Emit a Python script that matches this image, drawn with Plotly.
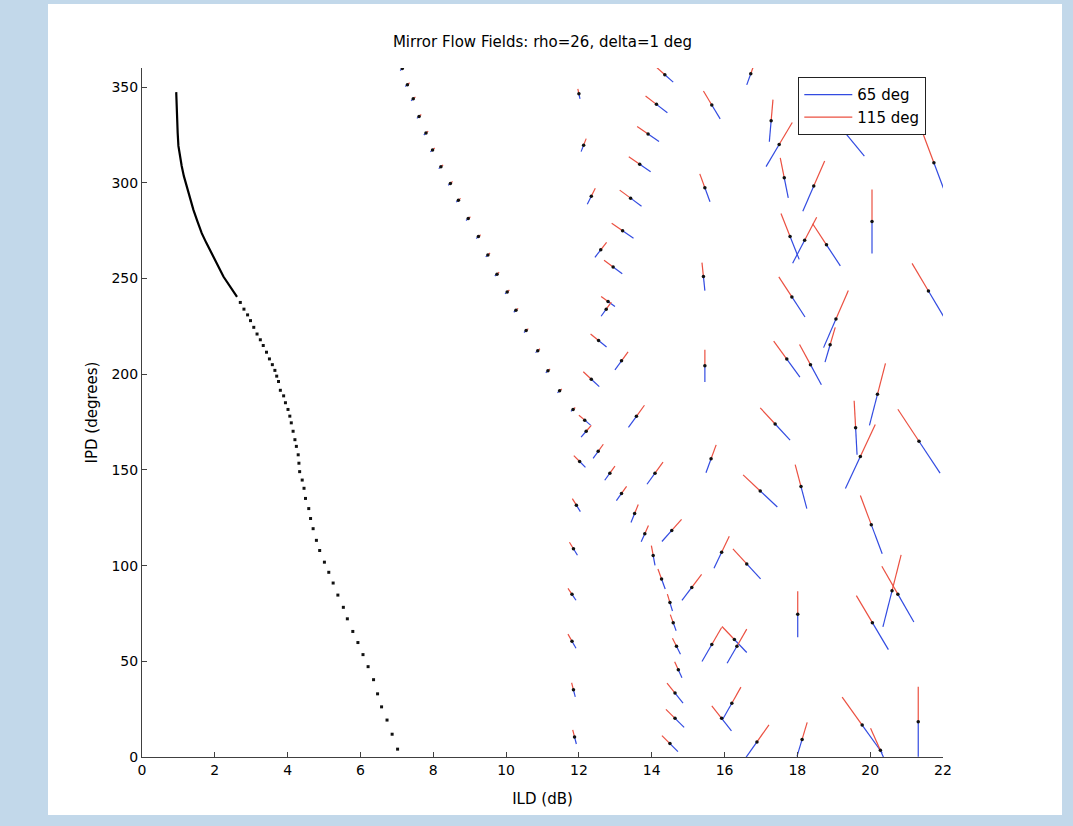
import plotly.graph_objects as go

# ---------------- data ----------------
title_text = "Mirror Flow Fields: rho=26, delta=1 deg"
x_ticks = [0, 2, 4, 6, 8, 10, 12, 14, 16, 18, 20, 22]
y_ticks = [0, 50, 100, 150, 200, 250, 300, 350]

# left trajectory: dense upper part (continuous)
curve_dense_ild = [0.94, 0.95, 0.96, 0.98, 1.00, 1.04, 1.09, 1.15, 1.23, 1.31, 1.41, 1.52,
                   1.64, 1.77, 1.92, 2.08, 2.24, 2.42, 2.61]
curve_dense_ipd = [347.4, 340.0, 333.4, 326.0, 319.3, 314.0, 308.8, 303.5, 298.3, 292.0, 286.0, 280.0,
                   273.7, 268.5, 263.2, 257.0, 250.9, 245.5, 240.4]

# left trajectory: dotted lower part
curve_dots_ild = [2.70, 2.80, 2.90, 2.98, 3.07, 3.16, 3.25, 3.33, 3.42, 3.50, 3.58, 3.65, 3.70,
                  3.75, 3.80, 3.89, 3.94, 4.01, 4.06, 4.10, 4.15, 4.20, 4.24, 4.29, 4.31, 4.33,
                  4.40, 4.45, 4.49, 4.58, 4.63, 4.70, 4.79, 4.88, 5.01, 5.13, 5.25, 5.38, 5.53,
                  5.64, 5.79, 5.93, 6.07, 6.21, 6.36, 6.47, 6.58, 6.73, 6.87, 7.02]
curve_dots_ipd = [237.5, 234.0, 231.0, 228.0, 224.5, 221.0, 218.0, 215.0, 211.5, 208.0, 205.0, 202.0, 199.0,
                  196.2, 191.6, 188.7, 185.1, 181.6, 178.1, 174.6, 170.2, 165.8, 162.3, 157.9, 153.5, 149.1,
                  144.7, 140.4, 135.1, 129.8, 124.6, 119.3, 113.2, 107.9, 101.8, 96.5, 90.9, 84.6, 78.2,
                  72.2, 65.6, 59.8, 53.5, 47.2, 40.4, 33.0, 26.2, 19.3, 11.9, 4.1]

# second trajectory (tiny vectors)
traj2_ild = [7.15, 7.29, 7.45, 7.61, 7.80, 7.98, 8.21, 8.47, 8.69, 8.96, 9.24, 9.50, 9.75, 10.03,
             10.27, 10.55, 10.87, 11.15, 11.47, 11.84]
traj2_ipd = [359.7, 351.3, 343.9, 334.7, 326.0, 317.2, 308.4, 299.7, 290.9, 281.3, 271.9, 262.3, 252.3, 243.0,
             233.4, 222.8, 212.3, 201.8, 191.3, 181.6]
traj2_du = [0.06] * len(traj2_ild)
traj2_dv = [1.0] * len(traj2_ild)

# flow vectors: centre (ILD, IPD) and the 115-deg half-vector (dILD, dIPD);
# the 65-deg half-vector is the mirror (opposite) of it
vec_ild = [14.36, 14.13, 13.90, 13.67, 13.42, 13.20, 12.94, 12.80, 12.54, 12.34, 12.16,
           12.20, 12.53, 12.85, 13.17, 13.53, 13.81, 14.04, 14.27, 14.50, 14.59, 14.68, 14.73, 14.64, 14.64, 14.50,
           12.00, 12.13, 12.34, 12.60, 12.75, 13.17, 13.58, 14.09, 14.55, 15.10, 15.65, 16.20,
           12.02, 11.93, 11.85, 11.81, 11.81, 11.85, 11.88,
           15.65, 15.46, 15.42, 15.46, 15.63, 15.92, 16.34, 16.89,
           16.72, 17.28, 17.64, 17.80, 17.85, 17.71, 17.39, 16.98, 16.61, 16.27, 15.92,
           17.50, 18.45, 18.20, 18.80, 19.06, 18.90, 18.36, 20.20, 19.60, 19.73, 21.34, 18.10,
           20.03, 20.60, 20.76, 20.06, 18.01, 19.78, 20.28, 21.32, 18.13, 19.32, 20.05, 21.75, 21.60]
vec_ipd = [356.5, 341.0, 325.5, 309.7, 292.0, 275.0, 256.0, 238.0, 217.6, 197.4, 176.0,
           170.2, 159.7, 148.3, 137.7, 127.2, 116.7, 105.3, 93.0, 80.7, 70.2, 57.9, 45.6, 33.4, 20.2, 7.0,
           346.5, 319.7, 293.0, 265.0, 234.0, 207.0, 178.0, 148.3, 118.4, 88.6, 58.8, 28.1,
           154.4, 131.6, 108.8, 85.0, 60.5, 35.1, 10.5,
           340.7, 297.4, 251.0, 204.4, 155.8, 107.0, 57.9, 7.9,
           357.0, 332.5, 302.6, 272.0, 240.4, 207.9, 174.0, 139.0, 100.9, 61.4, 20.2,
           320.0, 298.3, 270.0, 267.6, 228.8, 215.4, 205.0, 189.5, 172.0, 157.0, 165.0, 141.3,
           121.4, 86.8, 85.1, 70.2, 74.6, 16.7, 3.5, 18.4, 9.2, 326.0, 279.8, 310.5, 243.5]
vec_du = [-0.23, -0.30, -0.30, -0.30, -0.30, -0.30, -0.25, -0.19, -0.22, -0.22, -0.16,
          0.14, 0.14, 0.14, 0.14, 0.10, 0.10, -0.05, -0.10, -0.07, -0.08, -0.11, -0.10, -0.22, -0.25, -0.22,
          -0.03, 0.07, 0.11, 0.16, 0.14, 0.18, 0.22, 0.22, 0.27, 0.27, 0.27, 0.25,
          -0.16, -0.11, -0.11, -0.11, -0.11, -0.05, -0.05,
          -0.23, -0.14, -0.04, 0.00, 0.14, 0.21, 0.27, 0.33,
          0.11, 0.05, -0.11, -0.25, -0.36, -0.36, -0.41, -0.47, -0.38, -0.34, -0.27,
          0.36, 0.30, 0.33, -0.38, 0.34, 0.14, -0.30, 0.22, -0.04, 0.41, -0.58, -0.16,
          -0.30, 0.25, -0.44, -0.44, 0.00, -0.55, -0.27, 0.00, 0.14, -0.52, 0.00, -0.33, -0.45]
vec_dv = [3.9, 4.4, 3.9, 3.9, 4.2, 3.9, 3.5, 2.6, 3.4, 3.9, 2.6,
          3.1, 3.7, 3.7, 3.7, 4.7, 4.2, 5.2, 5.2, 4.4, 4.2, 4.2, 4.2, 5.2, 4.7, 4.2,
          2.6, 3.4, 4.2, 3.9, 3.7, 4.7, 5.8, 5.8, 5.8, 6.8, 8.9, 8.4,
          3.1, 3.4, 3.4, 3.1, 3.7, 3.7, 3.7,
          7.3, 7.3, 7.3, 8.4, 7.3, 8.4, 8.9, 8.9,
          5.8, 11.0, 10.5, 12.0, 10.5, 9.4, 8.4, 8.4, 7.8, 6.8, 6.5,
          11.5, 13.1, 12.0, 11.0, 14.9, 9.1, 10.5, 16.2, 14.1, 16.7, 16.7, 11.5,
          15.2, 18.8, 14.6, 14.1, 12.0, 14.6, 11.5, 18.3, 8.9, 12.0, 16.7, 16.7, 14.4]

legend_names = ["65 deg", "115 deg"]

# ---------------- styles ----------------
BLUE = "rgb(50,75,225)"
RED = "rgb(235,80,65)"
FONT = "DejaVu Sans, Verdana, sans-serif"


def segments(xc, yc, du, dv, sign):
    xs, ys = [], []
    for x, y, u, v in zip(xc, yc, du, dv):
        xs += [x, x + sign * u, None]
        ys += [y, y + sign * v, None]
    return xs, ys


all_ild = traj2_ild + vec_ild
all_ipd = traj2_ipd + vec_ipd
all_du = traj2_du + vec_du
all_dv = traj2_dv + vec_dv

bx, by = segments(all_ild, all_ipd, all_du, all_dv, -1)
rx, ry = segments(all_ild, all_ipd, all_du, all_dv, 1)

fig = go.Figure()
fig.add_trace(go.Scatter(x=bx, y=by, mode="lines", name=legend_names[0],
                         line=dict(color=BLUE, width=1.2)))
fig.add_trace(go.Scatter(x=rx, y=ry, mode="lines", name=legend_names[1],
                         line=dict(color=RED, width=1.2)))
fig.add_trace(go.Scatter(x=curve_dense_ild, y=curve_dense_ipd, mode="lines", showlegend=False,
                         line=dict(color="black", width=2.2)))
fig.add_trace(go.Scatter(x=curve_dots_ild, y=curve_dots_ipd, mode="markers", showlegend=False,
                         marker=dict(color="#111111", size=3, symbol="square")))
fig.add_trace(go.Scatter(x=all_ild, y=all_ipd, mode="markers", showlegend=False,
                         marker=dict(color="#111111", size=3.5)))

W, H = 1073, 826
L, R, T, B = 142, 130, 68, 69
pw, ph = W - L - R, H - T - B

def px_to_paper_x(p):
    return (p - L) / pw

def px_to_paper_y(p):
    return (H - B - p) / ph

fig.add_shape(type="rect", xref="paper", yref="paper", layer="below",
              x0=px_to_paper_x(48), x1=px_to_paper_x(1062),
              y0=px_to_paper_y(815), y1=px_to_paper_y(4),
              fillcolor="white", line=dict(width=0))

fig.update_layout(
    width=W, height=H,
    margin=dict(l=L, r=R, t=T, b=B),
    paper_bgcolor="#c2d8ea",
    plot_bgcolor="white",
    font=dict(family=FONT, size=14, color="black"),
    title=dict(text=title_text, x=0.5, xref="paper", xanchor="center",
               y=1 - 42 / H, yref="container", yanchor="middle",
               font=dict(family=FONT, size=15, color="black")),
    showlegend=True,
    legend=dict(x=px_to_paper_x(798), y=px_to_paper_y(77), xanchor="left", yanchor="top",
                bgcolor="white", bordercolor="#222222", borderwidth=1.3,
                font=dict(family=FONT, size=15, color="black"),
                itemwidth=48, tracegroupgap=0),
)
fig.update_xaxes(range=[0, 22], tickvals=x_ticks, ticks="inside", ticklen=5,
                 showline=True, linecolor="#404040", linewidth=1, tickcolor="#404040",
                 showgrid=False, zeroline=False, mirror=False,
                 tickfont=dict(family=FONT, size=14),
                 title=dict(text="ILD (dB)", standoff=16, font=dict(family=FONT, size=15)))
fig.update_yaxes(range=[0, 360], tickvals=y_ticks, ticks="inside", ticklen=5,
                 showline=True, linecolor="#404040", linewidth=1, tickcolor="#404040",
                 showgrid=False, zeroline=False, mirror=False,
                 tickfont=dict(family=FONT, size=14),
                 title=dict(text="IPD (degrees)", standoff=10, font=dict(family=FONT, size=15)))

fig.write_html("out.html", config={"displayModeBar": False},
               post_script="document.body.style.margin='0px';")
